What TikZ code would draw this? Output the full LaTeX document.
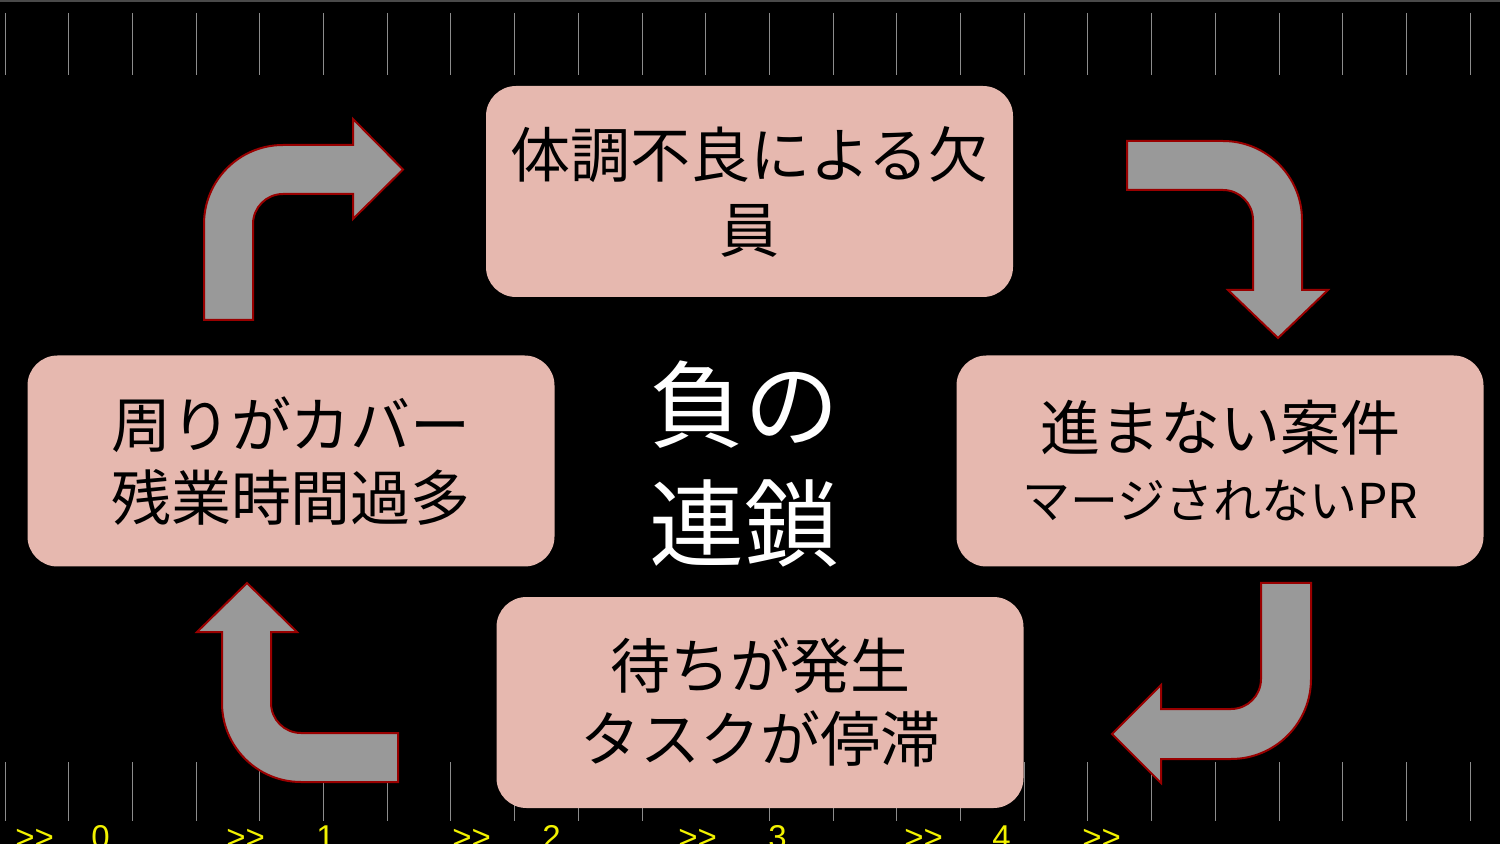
\documentclass[tikz,border=0pt]{standalone}
\usepackage{fontspec}
\setmainfont{Noto Sans CJK JP}
\newfontfamily\rulerfont{Liberation Sans}
\definecolor{boxpink}{HTML}{E6B8AF}
\definecolor{arrowgray}{HTML}{999999}
\definecolor{arrowedge}{HTML}{990000}
\definecolor{tickgray}{HTML}{8C8C8C}
\definecolor{topline}{HTML}{4A4A4A}
\definecolor{rulery}{HTML}{F2F200}
\begin{document}
\begin{tikzpicture}[x=0.5pt,y=0.5pt,
  box/.style={fill=boxpink, rounded corners=15pt, minimum width=263.5pt,
    minimum height=105.5pt, align=center, inner sep=0pt, text=black},
  bent/.style={fill=arrowgray, draw=arrowedge, line width=1pt, line join=miter},
  tick/.style={draw=tickgray, line width=0.5pt},
  ruler/.style={text=rulery, font=\rulerfont\fontsize{16.5}{16.5}\selectfont,
    anchor=base west, inner sep=0pt},
]
\useasboundingbox (0,0) rectangle (1500,-844);
\fill[black] (0,0) rectangle (1500,-844);
\fill[topline] (0,0) rectangle (1500,-2);
% ruler ticks
\foreach \k in {0,...,23} {
  \draw[tick] ({5+63.7*\k},-13) -- ({5+63.7*\k},-75);
  \ifnum\k=11 \else
    \draw[tick] ({5+63.7*\k},-762) -- ({5+63.7*\k},-821);
  \fi
}
% ruler labels
\node[ruler] (r0) at (15,-848) {>\kern0pt>};
\node[ruler] (n0) at (91,-848) {0};
\node[ruler] (r1) at (226,-848) {>\kern0pt>};
\node[ruler] (n1) at (316,-848) {1};
\node[ruler] (r2) at (452,-848) {>\kern0pt>};
\node[ruler] (n2) at (542,-848) {2};
\node[ruler] (r3) at (678,-848) {>\kern0pt>};
\node[ruler] (n3) at (768,-848) {3};
\node[ruler] (r4) at (904,-848) {>\kern0pt>};
\node[ruler] (n4) at (992,-848) {4};
\node[ruler] (r5) at (1082,-848) {>\kern0pt>};
% bent arrows
\draw[bent] (204,-320) -- (204,-224) arc[start angle=180,end angle=90,radius=79]
  -- (353,-145) -- (353,-119) -- (403,-169.5) -- (353,-219) -- (353,-194)
  -- (283,-194) arc[start angle=90,end angle=180,radius=30] -- (253,-320) -- cycle;
\draw[bent] (1127,-141) -- (1223,-141) arc[start angle=90,end angle=0,radius=79]
  -- (1302,-290) -- (1328,-290) -- (1278,-338) -- (1228,-290) -- (1253,-290)
  -- (1253,-220) arc[start angle=0,end angle=90,radius=30] -- (1127,-190) -- cycle;
\draw[bent] (1261,-583) -- (1311,-583) -- (1311,-679) arc[start angle=0,end angle=-90,radius=80]
  -- (1161,-759) -- (1161,-783) -- (1112,-734) -- (1161,-685) -- (1161,-709)
  -- (1231,-709) arc[start angle=-90,end angle=0,radius=30] -- cycle;
\draw[bent] (398,-733) -- (398,-782) -- (301,-782) arc[start angle=270,end angle=180,radius=79]
  -- (222,-632) -- (197,-632) -- (247,-583) -- (297,-632) -- (271,-632)
  -- (271,-703) arc[start angle=180,end angle=270,radius=30] -- cycle;
% boxes
\node[box, font=\fontsize{30}{37.5}\selectfont] (absent) at (749.5,-191.5) {体調不良による欠\\員};
\node[box, font=\fontsize{30}{32}\selectfont] (stuck) at (1220,-461)
  {進まない案件\\[2pt]\fontsize{24}{32}\selectfont マージされないPR};
\node[box, font=\fontsize{30}{36.5}\selectfont] (wait) at (760,-702.5) {待ちが発生\\タスクが停滞};
\node[box, font=\fontsize{30}{36.5}\selectfont] (cover) at (291,-461) {周りがカバー\\残業時間過多};
% centre title
\node[font=\fontsize{47.5}{59.5}\selectfont, text=white, align=center, inner sep=0pt]
  (title) at (744,-464) {負の\\連鎖};
\end{tikzpicture}
\end{document}
